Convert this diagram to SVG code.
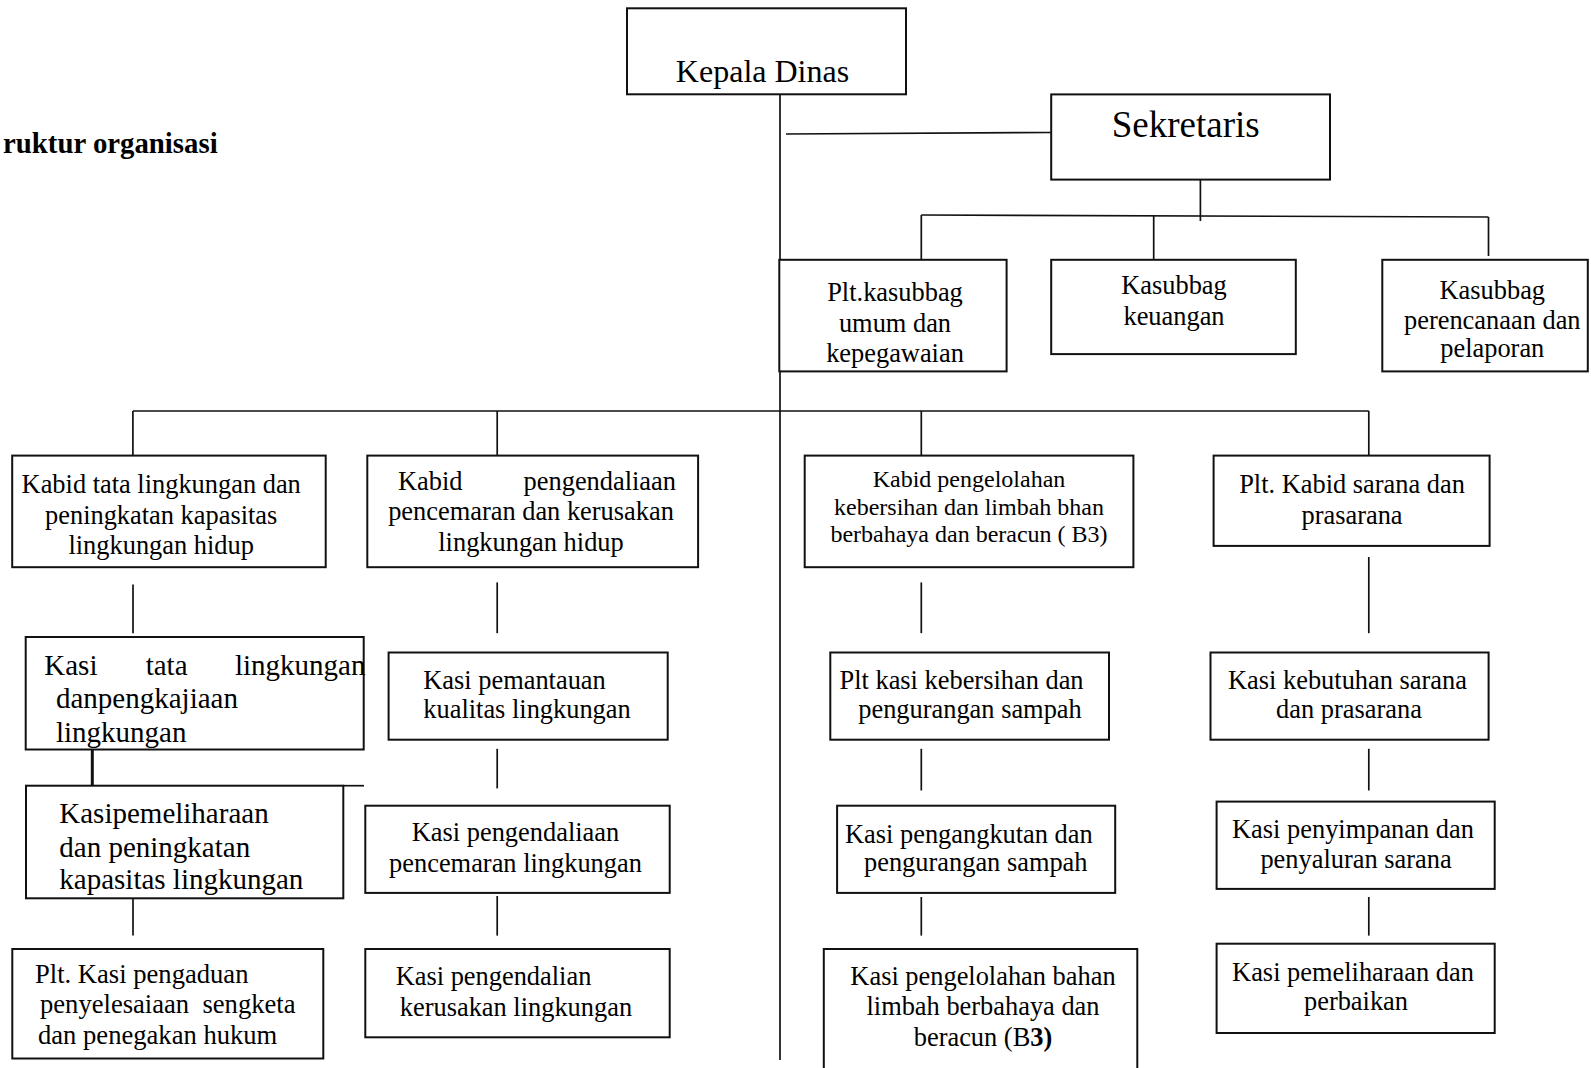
<svg xmlns="http://www.w3.org/2000/svg" width="1591" height="1068" viewBox="0 0 1591 1068">
<style>
.box{fill:#fff;stroke:#111;stroke-width:2}
.ln{stroke:#111;stroke-width:1.7;fill:none}
text{font-family:"Liberation Serif","Times New Roman",serif;fill:#000;font-size:26.4px}
.c{text-anchor:middle}
.e{text-anchor:end}
.s24{font-size:24px}
.s29{font-size:29px}
.s27{font-size:26.6px}
</style>
<rect width="1591" height="1068" fill="#fff"/>
<text x="3" y="152.7" style="font-weight:bold;font-size:28.8px">ruktur organisasi</text>

<g id="connectors">
<line class="ln" x1="780" y1="92" x2="780" y2="1060"/>
<line class="ln" x1="786" y1="134" x2="1051" y2="132.5"/>
<line class="ln" x1="1200.4" y1="180" x2="1200.4" y2="221"/>
<line class="ln" x1="921.3" y1="215" x2="1488.5" y2="217"/>
<line class="ln" x1="921.3" y1="215" x2="921.3" y2="260"/>
<line class="ln" x1="1153.7" y1="216" x2="1153.7" y2="260"/>
<line class="ln" x1="1488.5" y1="217" x2="1488.5" y2="256"/>
<line class="ln" x1="132.9" y1="411" x2="1368.8" y2="411"/>
<line class="ln" x1="132.9" y1="411" x2="132.9" y2="455.6"/>
<line class="ln" x1="497.2" y1="411" x2="497.2" y2="455.6"/>
<line class="ln" x1="921.3" y1="411" x2="921.3" y2="455.6"/>
<line class="ln" x1="1368.8" y1="411" x2="1368.8" y2="455.6"/>
<line class="ln" x1="133" y1="584.5" x2="133" y2="633.2"/>
<line x1="92.3" y1="749.3" x2="92.3" y2="785.7" stroke="#111" stroke-width="3"/>
<line class="ln" x1="133" y1="894" x2="133" y2="935.6"/>
<line class="ln" x1="497.2" y1="582.4" x2="497.2" y2="633.2"/>
<line class="ln" x1="497.2" y1="748.8" x2="497.2" y2="788.4"/>
<line class="ln" x1="497.2" y1="896" x2="497.2" y2="935.6"/>
<line class="ln" x1="921.3" y1="582.4" x2="921.3" y2="633.2"/>
<line class="ln" x1="921.3" y1="748.8" x2="921.3" y2="790.5"/>
<line class="ln" x1="921.3" y1="897" x2="921.3" y2="935.6"/>
<line class="ln" x1="1368.8" y1="557" x2="1368.8" y2="633.2"/>
<line class="ln" x1="1368.8" y1="748.8" x2="1368.8" y2="790.5"/>
<line class="ln" x1="1368.8" y1="897" x2="1368.8" y2="935.6"/>
</g>

<g id="kepala-dinas">
<rect class="box" x="627" y="8.3" width="279" height="86"/>
<text class="c" x="762.5" y="82" style="font-size:32px">Kepala Dinas</text>
</g>

<g id="sekretaris">
<rect class="box" x="1051.2" y="94.4" width="278.8" height="85.2"/>
<text class="c" x="1185.7" y="137" style="font-size:37px">Sekretaris</text>
</g>

<g id="kasubbag-umum">
<rect class="box" x="779.3" y="259.8" width="227.3" height="111.6"/>
<text class="c" x="895" y="301.4">Plt.kasubbag</text>
<text class="c" x="895" y="331.8">umum dan</text>
<text class="c" x="895" y="362.2">kepegawaian</text>
</g>

<g id="kasubbag-keuangan">
<rect class="box" x="1051.2" y="259.8" width="244.6" height="94.3"/>
<text class="c" x="1174" y="294.3">Kasubbag</text>
<text class="c" x="1174" y="324.7">keuangan</text>
</g>

<g id="kasubbag-perencanaan">
<rect class="box" x="1382.3" y="259.8" width="205.5" height="111.6"/>
<text class="c" x="1492.3" y="299">Kasubbag</text>
<text class="c" x="1492.3" y="328.5">perencanaan dan</text>
<text class="c" x="1492.3" y="357">pelaporan</text>
</g>

<g id="kabid-tata">
<rect class="box" x="12.2" y="455.6" width="313.5" height="111.6"/>
<text class="c" x="161.2" y="492.9">Kabid tata lingkungan dan</text>
<text class="c" x="161.2" y="524">peningkatan kapasitas</text>
<text class="c" x="161.2" y="554.3">lingkungan hidup</text>
</g>

<g id="kabid-pengendaliaan">
<rect class="box" x="367.3" y="455.6" width="330.8" height="111.6"/>
<text y="489.5"><tspan x="398">Kabid</tspan><tspan x="676" class="e">pengendaliaan</tspan></text>
<text class="c" x="531" y="520.2">pencemaran dan kerusakan</text>
<text class="c" x="531" y="551">lingkungan hidup</text>
</g>

<g id="kabid-pengelolahan">
<rect class="box" x="804.7" y="455.6" width="328.7" height="111.6"/>
<text class="c s24" x="969" y="487.4">Kabid pengelolahan</text>
<text class="c s24" x="969" y="515">kebersihan dan limbah bhan</text>
<text class="c s24" x="969" y="542">berbahaya dan beracun ( B3)</text>
</g>

<g id="kabid-sarana">
<rect class="box" x="1213.6" y="455.6" width="276" height="90.3"/>
<text class="c" x="1352" y="492.9">Plt. Kabid sarana dan</text>
<text class="c" x="1352" y="523.6">prasarana</text>
</g>

<g id="kasi-tata">
<rect class="box" x="25.7" y="637" width="338" height="112.5"/>
<text class="s29" y="675"><tspan x="44.3">Kasi</tspan><tspan x="145.7">tata</tspan><tspan x="235">lingkungan</tspan></text>
<text class="s29" x="56" y="708.3">danpengkajiaan</text>
<text class="s29" x="56" y="741.7">lingkungan</text>
</g>

<g id="kasi-pemeliharaan-kapasitas">
<rect class="box" x="26" y="785.7" width="317.3" height="112.6"/>
<line class="ln" x1="343" y1="785.7" x2="364" y2="785.7"/>
<text class="s29" x="59.3" y="823.3">Kasipemeliharaan</text>
<text class="s29" x="59.3" y="857.3">dan peningkatan</text>
<text class="s29" x="59.3" y="889.3">kapasitas lingkungan</text>
</g>

<g id="kasi-pengaduan">
<rect class="box" x="12.3" y="949" width="311" height="109.5"/>
<text class="s27" x="35" y="982.5">Plt. Kasi pengaduan</text>
<text class="s27" x="40" y="1013" xml:space="preserve">penyelesaiaan  sengketa</text>
<text class="s27" x="38" y="1043.5">dan penegakan hukum</text>
</g>

<g id="kasi-pemantauan">
<rect class="box" x="388.6" y="652.5" width="279.1" height="87.2"/>
<text x="423.3" y="689">Kasi pemantauan</text>
<text x="423.3" y="717.6">kualitas lingkungan</text>
</g>

<g id="kasi-pengendaliaan-pencemaran">
<rect class="box" x="365.3" y="805.7" width="304.4" height="87.2"/>
<text class="c" x="515.5" y="841.2">Kasi pengendaliaan</text>
<text class="c" x="515.5" y="872">pencemaran lingkungan</text>
</g>

<g id="kasi-pengendalian-kerusakan">
<rect class="box" x="365.3" y="949" width="304.4" height="88.3"/>
<text x="395.7" y="985.3">Kasi pengendalian</text>
<text x="399.8" y="1016">kerusakan lingkungan</text>
</g>

<g id="kasi-kebersihan">
<rect class="box" x="830.3" y="652.5" width="278.7" height="87.2"/>
<text x="839.5" y="689">Plt kasi kebersihan dan</text>
<text class="c" x="970" y="717.6">pengurangan sampah</text>
</g>

<g id="kasi-pengangkutan">
<rect class="box" x="837.1" y="805.7" width="278.1" height="87.2"/>
<text x="845" y="842.5">Kasi pengangkutan dan</text>
<text x="864" y="871">pengurangan sampah</text>
</g>

<g id="kasi-pengelolahan-b3">
<rect class="box" x="823.8" y="949" width="313.5" height="130"/>
<text class="c" x="983" y="985.3">Kasi pengelolahan bahan</text>
<text class="c" x="983" y="1015">limbah berbahaya dan</text>
<text class="c" x="983" y="1045.8">beracun (B<tspan font-weight="bold">3)</tspan></text>
</g>

<g id="kasi-kebutuhan">
<rect class="box" x="1210.5" y="652.5" width="278.1" height="87.2"/>
<text class="c" x="1347.5" y="689">Kasi kebutuhan sarana</text>
<text class="c" x="1349" y="717.6">dan prasarana</text>
</g>

<g id="kasi-penyimpanan">
<rect class="box" x="1216.6" y="801.6" width="278.1" height="87.3"/>
<text class="c" x="1353" y="837.8">Kasi penyimpanan dan</text>
<text class="c" x="1356" y="867.6">penyaluran sarana</text>
</g>

<g id="kasi-pemeliharaan-perbaikan">
<rect class="box" x="1216.6" y="943.7" width="278.1" height="89.3"/>
<text class="c" x="1353" y="981">Kasi pemeliharaan dan</text>
<text class="c" x="1356" y="1010.4">perbaikan</text>
</g>
</svg>
